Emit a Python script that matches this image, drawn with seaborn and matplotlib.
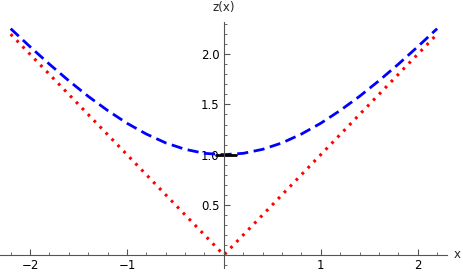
import numpy as np
import pandas as pd
import matplotlib
matplotlib.use("Agg")
import matplotlib.pyplot as plt
import seaborn as sns
from matplotlib.ticker import MultipleLocator, FixedLocator

sns.set_style("white")
plt.rcParams['font.family'] = ['DejaVu Sans']

x_pts = [-2.2, -2.0, -1.8, -1.6, -1.4, -1.2, -1.0, -0.8, -0.6, -0.4, -0.2, 0.0,
         0.2, 0.4, 0.6, 0.8, 1.0, 1.2, 1.4, 1.6, 1.8, 2.0, 2.2]
z_blue = [2.255, 2.075, 1.901, 1.736, 1.581, 1.440, 1.313, 1.205, 1.117, 1.053, 1.013, 1.000,
          1.013, 1.053, 1.117, 1.205, 1.313, 1.440, 1.581, 1.736, 1.901, 2.075, 2.255]
z_red = [2.2, 2.0, 1.8, 1.6, 1.4, 1.2, 1.0, 0.8, 0.6, 0.4, 0.2, 0.0,
         0.2, 0.4, 0.6, 0.8, 1.0, 1.2, 1.4, 1.6, 1.8, 2.0, 2.2]
x_black = [-0.08, 0.12]
z_black = [1.0, 1.0]

fig = plt.figure(figsize=(4.63, 2.73), dpi=100)
ax = fig.add_axes([0.0, 0.018, 0.965, 0.901])

blue_df = pd.DataFrame({"x": x_pts, "z": z_blue})
red_df = pd.DataFrame({"x": x_pts, "z": z_red})
black_df = pd.DataFrame({"x": x_black, "z": z_black})

sns.lineplot(data=red_df, x="x", y="z", ax=ax, color=(1, 0, 0), lw=2.2,
             linestyle=(0, (0.9, 1.9)), sort=False)
sns.lineplot(data=blue_df, x="x", y="z", ax=ax, color=(0, 0, 1), lw=2.0,
             linestyle=(0, (4, 2)), sort=False)
sns.lineplot(data=black_df, x="x", y="z", ax=ax, color="black", lw=2.0, sort=False)

ax.set_xlim(-2.31, 2.3)
ax.set_ylim(-0.13, 2.32)

ax.spines['left'].set_position(('data', 0))
ax.spines['bottom'].set_position(('data', 0))
ax.spines['right'].set_visible(False)
ax.spines['top'].set_visible(False)
for s in ('left', 'bottom'):
    ax.spines[s].set_color('#555555')
    ax.spines[s].set_linewidth(0.8)

ax.xaxis.set_major_locator(FixedLocator([-2, -1, 1, 2]))
ax.xaxis.set_minor_locator(MultipleLocator(0.2))
ax.yaxis.set_major_locator(FixedLocator([0.5, 1.0, 1.5, 2.0]))
ax.yaxis.set_minor_locator(MultipleLocator(0.1))
ax.set_xticklabels(['\u22122', '\u22121', '1', '2'])
ax.set_yticklabels(['0.5', '1.0', '1.5', '2.0'])

ax.tick_params(axis='x', which='major', direction='in', length=4, width=0.8,
               color='#555555', labelsize=8.5, labelcolor='black', pad=3, bottom=True)
ax.tick_params(axis='x', which='minor', direction='in', length=2.5, width=0.6,
               color='#555555', bottom=True)
ax.tick_params(axis='y', which='major', direction='in', length=4, width=0.8,
               color='#555555', labelsize=8.5, labelcolor='black', pad=3, left=True)
ax.tick_params(axis='y', which='minor', direction='in', length=2.5, width=0.6,
               color='#555555', left=True)
ax.set_xlabel('')
ax.set_ylabel('')

fig.text(224 / 463, 1 - 8 / 273, 'z(x)', ha='center', va='center', fontsize=8.5)
fig.text(457 / 463, 1 - 254 / 273, 'x', ha='center', va='center', fontsize=8.5)

fig.savefig("out.png", dpi=100)
